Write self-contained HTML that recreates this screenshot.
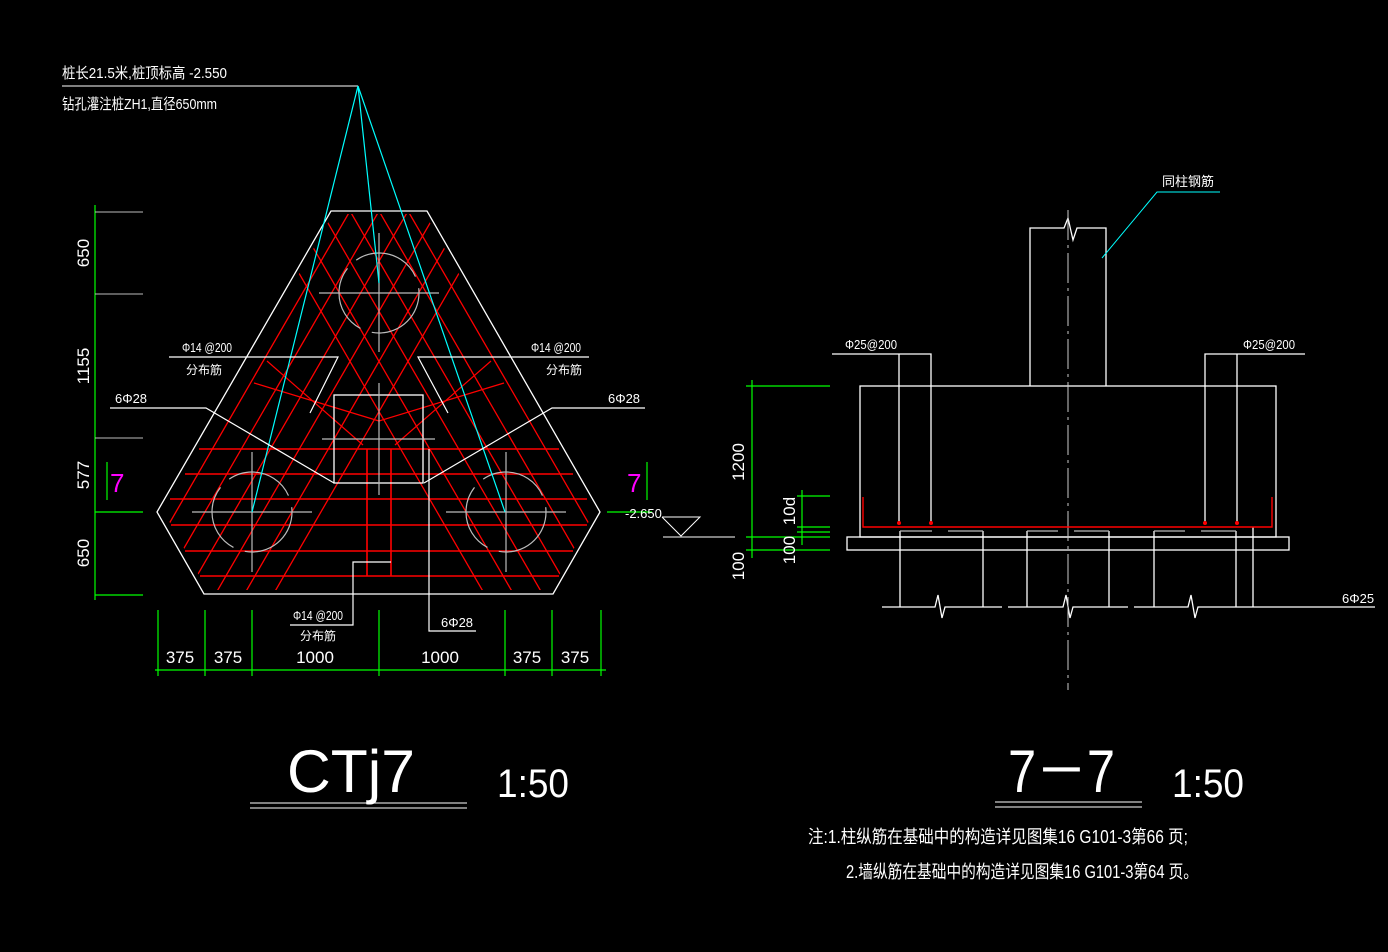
<!DOCTYPE html>
<html><head><meta charset="utf-8"><style>html,body{margin:0;padding:0;background:#000}svg{display:block}text{font-family:"Liberation Sans","Noto Sans CJK SC",sans-serif;fill:#fff}</style></head><body>
<svg width="1388" height="952" viewBox="0 0 1388 952" xmlns="http://www.w3.org/2000/svg">
<rect width="1388" height="952" fill="#000"/>
<defs><clipPath id="cp"><polygon points="333,214 425,214 594,512 551,590 207,590 164,512"/></clipPath></defs>
<!-- top-left notes -->
<text x="62" y="78" font-size="15" textLength="165" lengthAdjust="spacingAndGlyphs">桩长21.5米,桩顶标高 -2.550</text>
<text x="62" y="109" font-size="15" textLength="155" lengthAdjust="spacingAndGlyphs">钻孔灌注桩ZH1,直径650mm</text>
<line x1="62" y1="86" x2="358" y2="86" stroke="#fff"/>
<!-- red rebar -->
<g stroke="#f00" stroke-width="1.3" clip-path="url(#cp)">
<line x1="350" y1="211" x2="125" y2="600"/><line x1="379" y1="211" x2="154" y2="600"/><line x1="408" y1="211" x2="183" y2="600"/><line x1="437" y1="211" x2="212" y2="600"/><line x1="466" y1="211" x2="241" y2="600"/><line x1="495" y1="211" x2="270" y2="600"/>
<line x1="408" y1="211" x2="633" y2="600"/><line x1="379" y1="211" x2="604" y2="600"/><line x1="350" y1="211" x2="575" y2="600"/><line x1="321" y1="211" x2="546" y2="600"/><line x1="292" y1="211" x2="517" y2="600"/><line x1="263" y1="211" x2="488" y2="600"/>
</g>
<g stroke="#f00" stroke-width="1.6">
<line x1="199" y1="449" x2="559" y2="449"/><line x1="185" y1="474" x2="573" y2="474"/><line x1="170" y1="499" x2="587" y2="499"/><line x1="171" y1="525" x2="587" y2="525"/><line x1="185" y1="551" x2="573" y2="551"/><line x1="200" y1="576" x2="559" y2="576"/>
<line x1="367" y1="449" x2="367" y2="576"/><line x1="391" y1="449" x2="391" y2="576"/>
<line x1="267" y1="361" x2="363" y2="445" stroke-width="1.2"/><line x1="254" y1="383" x2="379" y2="421" stroke-width="1.2"/>
<line x1="491" y1="361" x2="395" y2="445" stroke-width="1.2"/><line x1="504" y1="383" x2="379" y2="421" stroke-width="1.2"/>
</g>
<!-- outline -->
<polygon points="331,211 427,211 600,512 553,594 204,594 157,512" fill="none" stroke="#fff" stroke-width="1.3"/>
<rect x="334" y="395" width="89" height="88" fill="none" stroke="#fff" stroke-width="1.3"/>
<!-- piles -->
<g stroke="#bbb" fill="none" stroke-width="1.2">
<circle cx="379" cy="293" r="40" stroke-dasharray="70 12"/><circle cx="252" cy="512" r="40" stroke-dasharray="70 12"/><circle cx="506" cy="512" r="40" stroke-dasharray="70 12"/>
<line x1="319" y1="293" x2="439" y2="293"/><line x1="379" y1="233" x2="379" y2="352"/>
<line x1="192" y1="512" x2="312" y2="512"/><line x1="252" y1="452" x2="252" y2="572"/>
<line x1="446" y1="512" x2="566" y2="512"/><line x1="506" y1="452" x2="506" y2="572"/>
<line x1="322" y1="439" x2="435" y2="439"/><line x1="379" y1="383" x2="379" y2="495"/>
</g>
<!-- cyan leaders -->
<g stroke="#0ff" stroke-width="1.2"><line x1="358" y1="86" x2="252" y2="512"/><line x1="358" y1="86" x2="379" y2="283"/><line x1="358" y1="86" x2="505" y2="512"/></g>
<!-- white leaders -->
<g stroke="#fff" stroke-width="1.2" fill="none">
<polyline points="110,408 206,408 334,483"/><polyline points="645,408 552,408 424,483"/>
<polyline points="169,357 338,357 310,413"/><polyline points="589,357 418,357 448,413"/>
<polyline points="391,562 353,562 353,625 290,625"/>
<polyline points="429,449 429,631 476,631"/>
</g>
<g font-size="13">
<text x="182" y="352" textLength="50" lengthAdjust="spacingAndGlyphs">Φ14 @200</text><text x="186" y="374" font-size="12">分布筋</text>
<text x="531" y="352" textLength="50" lengthAdjust="spacingAndGlyphs">Φ14 @200</text><text x="546" y="374" font-size="12">分布筋</text>
<text x="115" y="403" textLength="32" lengthAdjust="spacingAndGlyphs">6Φ28</text>
<text x="608" y="403" textLength="32" lengthAdjust="spacingAndGlyphs">6Φ28</text>
<text x="293" y="620" textLength="50" lengthAdjust="spacingAndGlyphs">Φ14 @200</text><text x="300" y="640" font-size="12">分布筋</text>
<text x="441" y="627" textLength="32" lengthAdjust="spacingAndGlyphs">6Φ28</text>
</g>
<!-- left dims -->
<g stroke="#0f0" stroke-width="1.2">
<line x1="95" y1="205" x2="95" y2="600"/>
<line x1="155" y1="670" x2="606" y2="670"/>
<line x1="158" y1="610" x2="158" y2="676"/><line x1="205" y1="610" x2="205" y2="676"/><line x1="252" y1="610" x2="252" y2="676"/><line x1="379" y1="610" x2="379" y2="676"/><line x1="505" y1="610" x2="505" y2="676"/><line x1="552" y1="610" x2="552" y2="676"/><line x1="601" y1="610" x2="601" y2="676"/>
<line x1="95" y1="512" x2="143" y2="512"/><line x1="95" y1="595" x2="143" y2="595"/>
<line x1="107" y1="462" x2="107" y2="500"/><line x1="647" y1="462" x2="647" y2="500"/>
<line x1="607" y1="512" x2="652" y2="512"/>
</g>
<g stroke="#bbb" stroke-width="1"><line x1="95" y1="212" x2="143" y2="212"/><line x1="95" y1="294" x2="143" y2="294"/><line x1="95" y1="438" x2="143" y2="438"/></g>
<g font-size="17" fill="#fff">
<text transform="translate(89,253) rotate(-90)" text-anchor="middle">650</text>
<text transform="translate(89,366) rotate(-90)" text-anchor="middle">1155</text>
<text transform="translate(89,475) rotate(-90)" text-anchor="middle">577</text>
<text transform="translate(89,553) rotate(-90)" text-anchor="middle">650</text>
<text x="180" y="663" text-anchor="middle">375</text><text x="228" y="663" text-anchor="middle">375</text><text x="315" y="663" text-anchor="middle">1000</text><text x="440" y="663" text-anchor="middle">1000</text><text x="527" y="663" text-anchor="middle">375</text><text x="575" y="663" text-anchor="middle">375</text>
</g>
<text x="110" y="492" font-size="26" style="fill:#f0f">7</text><text x="627" y="492" font-size="26" style="fill:#f0f">7</text>
<!-- level mark -->
<text x="625" y="518" font-size="13">-2.650</text>
<polyline points="662,517 700,517 681,536 662,517" fill="none" stroke="#fff"/>
<line x1="663" y1="537" x2="735" y2="537" stroke="#fff"/>
<!-- section 7-7 -->
<g stroke="#fff" stroke-width="1.3" fill="none">
<polyline points="1030,386 1030,228 1064,228 1068,218 1073,240 1077,228 1106,228 1106,386"/>
<rect x="860" y="386" width="416" height="151"/>
<rect x="847" y="537" width="442" height="13"/>
<polyline points="832,354 931,354 931,523"/><line x1="899" y1="354" x2="899" y2="523"/>
<polyline points="1305,354 1205,354 1205,523"/><line x1="1237" y1="354" x2="1237" y2="523"/>
<line x1="900" y1="531" x2="900" y2="607"/><line x1="983" y1="531" x2="983" y2="607"/>
<line x1="1027" y1="531" x2="1027" y2="607"/><line x1="1109" y1="531" x2="1109" y2="607"/>
<line x1="1154" y1="531" x2="1154" y2="607"/><line x1="1236" y1="531" x2="1236" y2="607"/>
<line x1="1253" y1="527" x2="1253" y2="607"/>
<polyline points="882,607 935,607 938,595 942,618 945,607 1002,607"/>
<polyline points="1008,607 1063,607 1066,595 1070,618 1073,607 1128,607"/>
<polyline points="1134,607 1188,607 1191,595 1195,618 1198,607 1375,607"/>
</g>
<g stroke="#bbb" stroke-width="1.2"><line x1="900" y1="531" x2="932" y2="531"/><line x1="948" y1="531" x2="983" y2="531"/><line x1="1027" y1="531" x2="1058" y2="531"/><line x1="1074" y1="531" x2="1109" y2="531"/><line x1="1154" y1="531" x2="1185" y2="531"/><line x1="1201" y1="531" x2="1236" y2="531"/></g>
<line x1="1068" y1="210" x2="1068" y2="690" stroke="#ccc" stroke-dasharray="30 5 3 5"/>
<polyline points="863,497 863,527 1272,527 1272,497" fill="none" stroke="#f00" stroke-width="1.4"/>
<g fill="#f00"><circle cx="899" cy="523" r="2"/><circle cx="931" cy="523" r="2"/><circle cx="1205" cy="523" r="2"/><circle cx="1237" cy="523" r="2"/></g>
<polyline points="1220,192 1157,192 1102,258" fill="none" stroke="#0ff"/>
<text x="1162" y="186" font-size="13">同柱钢筋</text>
<text x="845" y="349" font-size="13" textLength="52" lengthAdjust="spacingAndGlyphs">Φ25@200</text>
<text x="1243" y="349" font-size="13" textLength="52" lengthAdjust="spacingAndGlyphs">Φ25@200</text>
<text x="1342" y="603" font-size="13">6Φ25</text>
<g stroke="#0f0" stroke-width="1.2">
<line x1="752" y1="380" x2="752" y2="558"/><line x1="746" y1="386" x2="830" y2="386"/><line x1="746" y1="537" x2="830" y2="537"/><line x1="746" y1="550" x2="830" y2="550"/>
<line x1="802" y1="490" x2="802" y2="545"/><line x1="797" y1="496" x2="830" y2="496"/><line x1="797" y1="527" x2="830" y2="527"/><line x1="797" y1="532" x2="830" y2="532"/>
</g>
<g font-size="17"><text transform="translate(744,462) rotate(-90)" text-anchor="middle">1200</text><text transform="translate(744,566) rotate(-90)" text-anchor="middle">100</text><text transform="translate(795,511) rotate(-90)" text-anchor="middle">10d</text><text transform="translate(795,550) rotate(-90)" text-anchor="middle">100</text></g>
<!-- titles -->
<text x="287" y="792" font-size="60" textLength="128" lengthAdjust="spacingAndGlyphs" style="font-weight:100">CTj7</text>
<line x1="250" y1="803" x2="467" y2="803" stroke="#fff"/><line x1="250" y1="808" x2="467" y2="808" stroke="#fff"/>
<text x="497" y="797" font-size="40" textLength="72" lengthAdjust="spacingAndGlyphs">1:50</text>
<text x="1008" y="792" font-size="60" textLength="107" lengthAdjust="spacingAndGlyphs">7－7</text>
<line x1="995" y1="802" x2="1142" y2="802" stroke="#fff"/><line x1="995" y1="807" x2="1142" y2="807" stroke="#fff"/>
<text x="1172" y="797" font-size="40" textLength="72" lengthAdjust="spacingAndGlyphs">1:50</text>
<text x="808" y="843" font-size="18" textLength="380" lengthAdjust="spacingAndGlyphs">注:1.柱纵筋在基础中的构造详见图集16 G101-3第66 页;</text>
<text x="846" y="878" font-size="18" textLength="352" lengthAdjust="spacingAndGlyphs">2.墙纵筋在基础中的构造详见图集16 G101-3第64 页。</text>
</svg>
</body></html>
